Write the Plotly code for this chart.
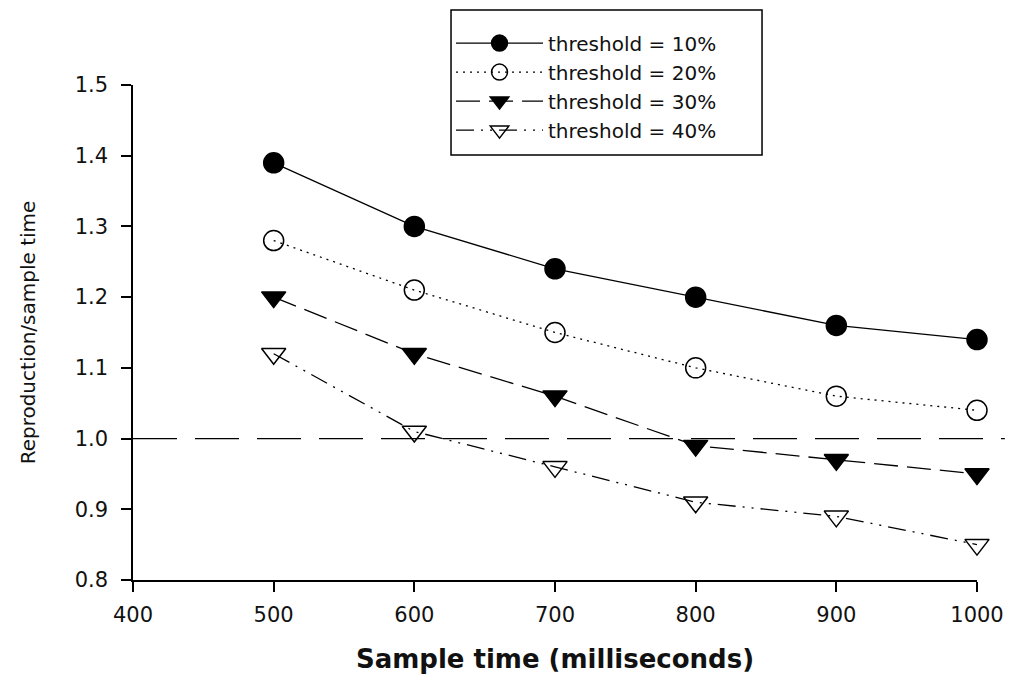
import plotly.graph_objects as go

# Sample durations (ms) and reproduction/sample ratios per threshold
sample_time = [500, 600, 700, 800, 900, 1000]
thr_10 = [1.39, 1.30, 1.24, 1.20, 1.16, 1.14]
thr_20 = [1.28, 1.21, 1.15, 1.10, 1.06, 1.04]
thr_30 = [1.20, 1.12, 1.06, 0.99, 0.97, 0.95]
thr_40 = [1.12, 1.01, 0.96, 0.91, 0.89, 0.85]
series_names = ["threshold = 10%", "threshold = 20%", "threshold = 30%", "threshold = 40%"]
reference_ratio = 1.0

x_ticks = [400, 500, 600, 700, 800, 900, 1000]
y_ticks = [0.8, 0.9, 1.0, 1.1, 1.2, 1.3, 1.4, 1.5]

styles = [
    dict(symbol="circle", dash="solid", size=20),
    dict(symbol="circle-open", dash="2px,5px", size=20),
    dict(symbol="triangle-down", dash="24px,9px", size=21),
    dict(symbol="triangle-down-open", dash="18px,7px,2px,7px,2px,7px", size=21),
]

fig = go.Figure()
for name, vals, st in zip(series_names, [thr_10, thr_20, thr_30, thr_40], styles):
    fig.add_trace(go.Scatter(
        x=sample_time, y=vals, name=name, mode="lines+markers", cliponaxis=False,
        line=dict(color="black", width=1.3, dash=st["dash"]),
        marker=dict(symbol=st["symbol"], size=st["size"], color="black",
                    line=dict(color="black", width=1.5)),
    ))

# Horizontal reference line at ratio 1.0, running slightly past the x axis
fig.add_shape(type="line", xref="paper", yref="y", x0=0, x1=1.033,
              y0=reference_ratio, y1=reference_ratio,
              line=dict(color="black", width=1.3, dash="44px,18px"))

# Frame around the legend
fig.add_shape(type="rect", xref="paper", yref="paper",
              x0=0.3768, x1=0.7453, y0=0.8586, y1=1.1515,
              line=dict(color="black", width=1.5), fillcolor="rgba(0,0,0,0)")

font_family = "DejaVu Sans, Verdana, sans-serif"
axis_common = dict(
    showgrid=False, zeroline=False, automargin=False,
    showline=True, linecolor="black", linewidth=1.5,
    ticks="outside", ticklen=10, tickwidth=1.5, tickcolor="black",
    tickfont=dict(size=21, color="#111"),
)
fig.update_layout(
    width=1012, height=678,
    margin=dict(l=133, r=35, t=85, b=98),
    paper_bgcolor="white", plot_bgcolor="white",
    font=dict(family=font_family, size=20, color="#111"),
    showlegend=True,
    legend=dict(
        x=0.3768, y=1.124, xanchor="left", yanchor="top",
        borderwidth=0, bgcolor="rgba(0,0,0,0)",
        font=dict(size=20, color="#111"), itemwidth=87,
        tracegroupgap=0,
    ),
    xaxis=dict(
        range=[400, 1000], tickvals=x_ticks, ticklabelstandoff=5,
        title=dict(text="<b>Sample time (milliseconds)</b>",
                   font=dict(size=26, color="#111"), standoff=24),
        **axis_common,
    ),
    yaxis=dict(
        range=[0.8, 1.5], tickvals=y_ticks, tickformat=".1f", ticklabelstandoff=9,
        title=dict(text="Reproduction/sample time",
                   font=dict(size=20, color="#111"), standoff=34),
        **axis_common,
    ),
)

fig.write_html("out.html")
